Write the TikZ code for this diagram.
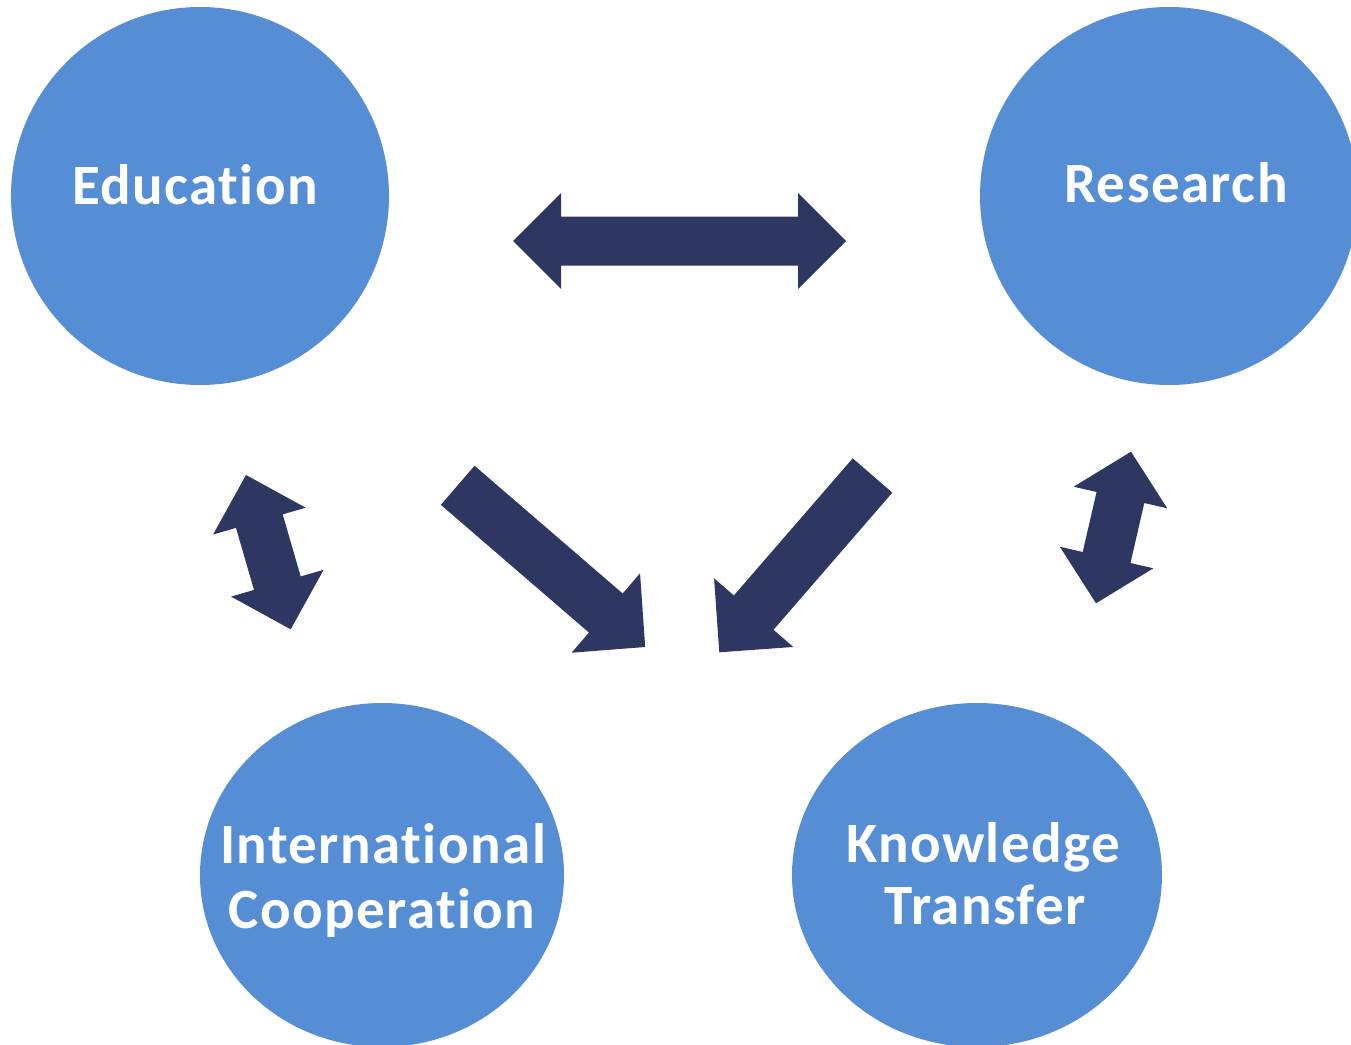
\documentclass[tikz,border=0pt]{standalone}
\usepackage{fontspec}
\setmainfont{Carlito}[Ligatures={NoCommon}, LetterSpace=2.5]
\usetikzlibrary{shapes.geometric}
\definecolor{circ}{HTML}{558ED5}
\definecolor{navy}{HTML}{2E3761}
% single block arrow: tail x,y ; tip x,y ; shaft half ; head half ; head length
\newcommand\sglarrow[7]{%
  \pgfmathsetmacro\myang{atan2(-((#4)-(#2)),(#3)-(#1))}%
  \pgfmathsetmacro\mylen{veclen((#3)-(#1),(#4)-(#2))}%
  \pgfmathsetmacro\mybx{\mylen-(#7)}%
  \begin{scope}[shift={(#1,#2)},rotate=\myang]
    \fill[blockarrow] (0,-#5) -- (\mybx,-#5) -- (\mybx,-#6) -- (\mylen,0)
      -- (\mybx,#6) -- (\mybx,#5) -- (0,#5) -- cycle;
  \end{scope}}
% double block arrow: tip1 x,y ; tip2 x,y ; shaft half ; head half ; head length
\newcommand\dblarrow[7]{%
  \pgfmathsetmacro\myang{atan2(-((#4)-(#2)),(#3)-(#1))}%
  \pgfmathsetmacro\mylen{veclen((#3)-(#1),(#4)-(#2))}%
  \pgfmathsetmacro\mybx{\mylen-(#7)}%
  \begin{scope}[shift={(#1,#2)},rotate=\myang]
    \fill[blockarrow] (0,0) -- (#7,-#6) -- (#7,-#5) -- (\mybx,-#5) -- (\mybx,-#6)
      -- (\mylen,0) -- (\mybx,#6) -- (\mybx,#5) -- (#7,#5) -- (#7,#6) -- cycle;
  \end{scope}}
\begin{document}
\begin{tikzpicture}[x=1pt,y=-1pt,
  bubble/.style={ellipse, fill=circ, draw=none, inner sep=0pt},
  lbl/.style={text=white, font=\fontsize{57}{63}\selectfont\bfseries, inner sep=0pt, anchor=base},
  blockarrow/.style={fill=navy, draw=none}]
\useasboundingbox (0,0) rectangle (1351,1044);
\clip (0,0) rectangle (1351,1044);
\fill[white] (0,0) rectangle (1351,1044);
% circles
\node[bubble, minimum width=378pt, minimum height=378pt] (edu) at (200,196) {};
\node[bubble, minimum width=378pt, minimum height=378pt] (res) at (1169,196) {};
\node[bubble, minimum width=364pt, minimum height=344pt] (ic) at (382,875) {};
\node[bubble, minimum width=370pt, minimum height=344pt] (kt) at (977,875) {};
% labels
\node[lbl] (edut) at (195,204) {Education};
\node[lbl] (rest) at (1176,202) {Research};
\node[lbl] (ict1) at (383,863) {International};
\node[lbl] (ict2) at (382,928) {Cooperation};
\node[lbl] (ktt1) at (983,862) {Knowledge};
\node[lbl] (ktt2) at (985,924) {Transfer};
% arrows
\dblarrow{513}{241}{846}{241}{24.5}{48}{48}
\dblarrow{246}{475}{290.7}{629.3}{24.3}{48.2}{48}
\dblarrow{1131}{451.7}{1096}{603.3}{24.5}{48}{47}
\sglarrow{457.7}{485.3}{645.2}{647}{25.8}{52.4}{52}
\sglarrow{872.5}{475.5}{719.3}{652.3}{26.2}{52.4}{52.5}
\end{tikzpicture}
\end{document}
